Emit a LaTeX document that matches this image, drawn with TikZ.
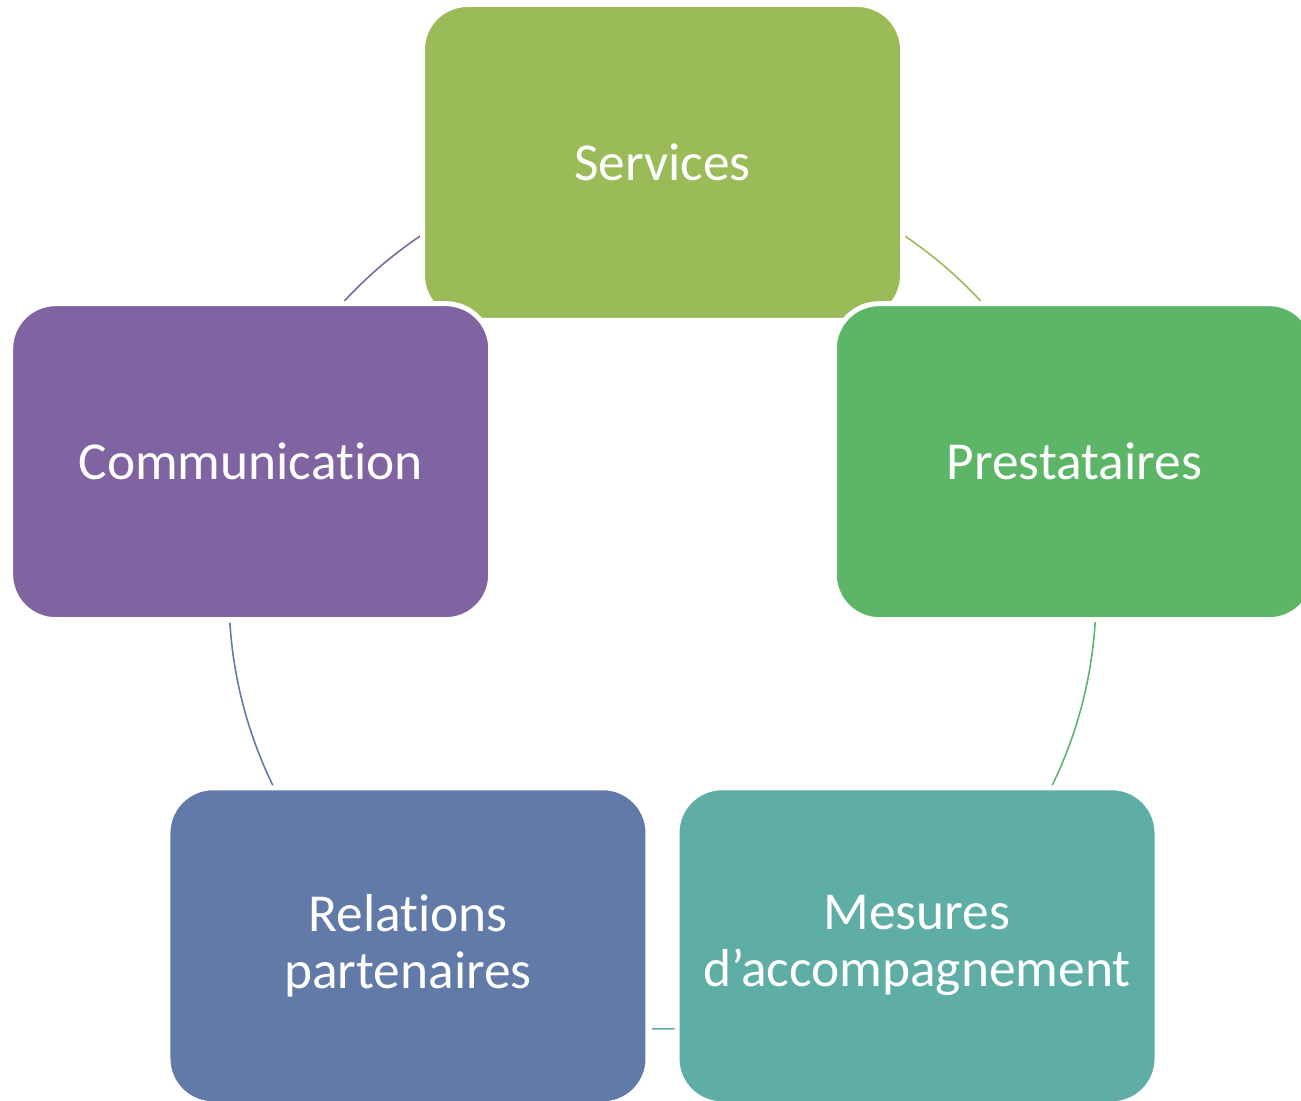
\documentclass[tikz,border=0pt]{standalone}
\usepackage{fontspec}
\setmainfont{Carlito}[Ligatures=NoCommon]
\usepackage{tikz}
\usetikzlibrary{positioning}
\definecolor{olivegreen}{HTML}{9BBB59}
\definecolor{leafgreen}{HTML}{5DB567}
\definecolor{seateal}{HTML}{5EAEA6}
\definecolor{slateblue}{HTML}{617AA8}
\definecolor{plumpurple}{HTML}{8064A2}

\begin{document}
\begin{tikzpicture}[card/.style={draw=white,line width=0.05cm,rounded corners=0.45cm,minimum width=4.8cm,minimum height=3.16cm,text=white,align=center,font=\fontsize{15.2}{16.2}\selectfont},
  link/.style={line width=0.45pt}]
\clip (0,0) rectangle (13.01,11.01);
\coordinate (hub) at (6.625,5.055);
% arcs of the cycle, behind the boxes
\draw[link,olivegreen] (hub) ++(56:4.335) arc[start angle=56,end angle=42.8,radius=4.335];
\draw[link,leafgreen] (hub) ++(-3.5:4.335) arc[start angle=-3.5,end angle=-26,radius=4.335];
\draw[link,seateal] (hub) ++(-88.1:4.335) arc[start angle=-88.1,end angle=-91.4,radius=4.335];
\draw[link,slateblue] (hub) ++(-153.7:4.335) arc[start angle=-153.7,end angle=-176.4,radius=4.335];
\draw[link,plumpurple] (hub) ++(137.4:4.335) arc[start angle=137.4,end angle=123.8,radius=4.335];
\node[card,fill=olivegreen] (services) at ([shift={(90:4.33)}]hub) {Services};
\node[card,fill=leafgreen] (prestataires) at ([shift={(18:4.33)}]hub) {Prestataires};
\node[card,fill=seateal] (mesures) at ([shift={(-54:4.33)}]hub) {Mesures\\d’accompagnement};
\node[card,fill=slateblue] (relations) at ([shift={(-126:4.33)}]hub) {Relations\\partenaires};
\node[card,fill=plumpurple] (communication) at ([shift={(162:4.33)}]hub) {Communication};
\end{tikzpicture}
\end{document}
